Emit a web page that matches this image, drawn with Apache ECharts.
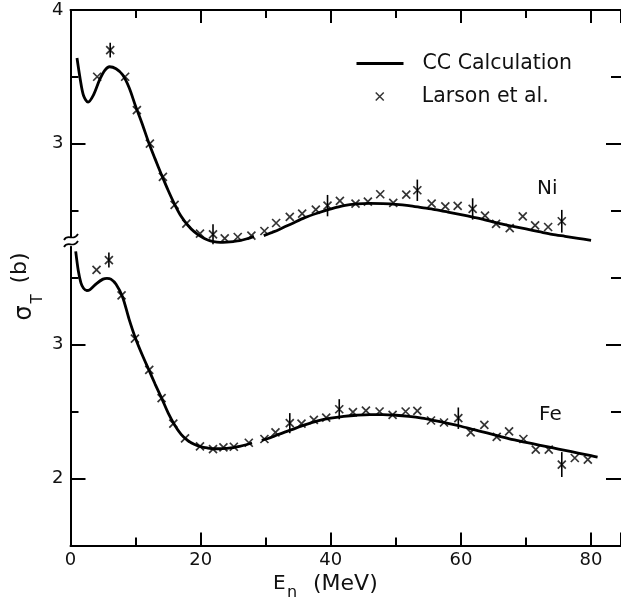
<!DOCTYPE html>
<html>
<head>
<meta charset="utf-8">
<script src="https://cdn.jsdelivr.net/npm/echarts@6/dist/echarts.min.js"></script>
<style>
  html, body { margin: 0; padding: 0; background: #fff; }
  #chart { width: 621px; height: 598px; }
</style>
</head>
<body>
<div id="chart"></div>
<script>
const FONT = '"DejaVu Sans", sans-serif';
const INK = '#111';

// Coupled-channel calculation for Ni: neutron energy (MeV) and total cross section (b).
// A null cross section splits the curve into its two computed segments.
const niCalcE = [1.0, 1.5, 2.0, 2.7, 3.5, 4.5, 5.3, 6.0, 7.0, 8.0, 9.0, 10.0, 11.0, 12.0, 13.0, 14.0,
  15.0, 16.0, 17.0, 18.0, 19.0, 20.0, 21.0, 22.0, 23.0, 24.0, 25.0, 26.0, 27.0, 28.2, 28.9,
  29.7, 31, 32, 34, 36, 38, 40, 42, 44, 46, 48, 50, 52, 54, 56, 58, 60, 62, 64, 66, 68, 70,
  72, 74, 76, 78, 80];
const niCalcS = [3.64, 3.48, 3.36, 3.31, 3.36, 3.48, 3.55, 3.575, 3.56, 3.515, 3.42, 3.28, 3.15, 3.01, 2.885, 2.765,
  2.65, 2.545, 2.455, 2.39, 2.34, 2.305, 2.28, 2.265, 2.26, 2.262, 2.266, 2.272, 2.285, 2.305, null,
  2.31, 2.335, 2.355, 2.40, 2.445, 2.48, 2.51, 2.535, 2.548, 2.552, 2.55, 2.545, 2.535, 2.52, 2.505, 2.487, 2.468, 2.447, 2.425, 2.40, 2.38, 2.36,
  2.34, 2.32, 2.305, 2.29, 2.275];

// Larson et al. measurements for Ni
const niExpE = [4.1, 6.1, 8.4, 10.2, 12.2, 14.2, 16.0, 17.8, 19.9, 21.9, 23.7, 25.7, 27.8, 29.8, 31.6,
  33.7, 35.6, 37.7, 39.5, 41.4, 43.8, 45.7, 47.6, 49.6, 51.6, 53.3, 55.5, 57.6, 59.5, 61.8, 63.7,
  65.4, 67.5, 69.5, 71.4, 73.4, 75.5];
const niExpS = [3.50, 3.70, 3.50, 3.25, 3.00, 2.75, 2.54, 2.40, 2.325, 2.32, 2.29, 2.30, 2.31, 2.345, 2.405,
  2.45, 2.475, 2.505, 2.535, 2.57, 2.55, 2.565, 2.62, 2.555, 2.617, 2.65, 2.55, 2.53, 2.533, 2.51, 2.46,
  2.398, 2.366, 2.455, 2.387, 2.375, 2.418];
// Ni points carrying error bars: energy, cross section, half-width (b)
const niBarE = [6.1, 21.9, 39.5, 53.3, 61.8, 75.5];
const niBarS = [3.70, 2.32, 2.535, 2.65, 2.51, 2.418];
const niBarErr = [0.055, 0.075, 0.08, 0.08, 0.08, 0.085];

// Coupled-channel calculation for Fe
const feCalcE = [0.8, 1.2, 1.6, 2.0, 2.5, 3.0, 4.0, 5.0, 5.6, 6.2, 7.0, 8.0, 9.0, 10.0, 11.0, 12.0, 13.0,
  14.0, 15.0, 16.0, 17.0, 18.0, 19.0, 20.0, 21.0, 22.0, 23.0, 24.0, 25.0, 26.0, 27.0, 27.9, 28.7,
  29.4, 31, 32, 34, 36, 38, 40, 42, 44, 46, 48, 50, 52, 54, 56, 58, 60, 62, 64, 66, 68, 70,
  72, 74, 76, 78, 80, 81];
const feCalcS = [3.695, 3.55, 3.46, 3.42, 3.403, 3.41, 3.455, 3.488, 3.494, 3.488, 3.45, 3.355, 3.19, 3.045, 2.925, 2.815, 2.705,
  2.60, 2.49, 2.40, 2.33, 2.285, 2.255, 2.238, 2.228, 2.222, 2.222, 2.225, 2.23, 2.24, 2.252, 2.265, null,
  2.285, 2.31, 2.33, 2.365, 2.40, 2.43, 2.45, 2.463, 2.472, 2.477, 2.477, 2.472, 2.463, 2.45, 2.432, 2.412, 2.39, 2.365, 2.34, 2.315, 2.29, 2.27,
  2.25, 2.23, 2.21, 2.19, 2.17, 2.16];

// Larson et al. measurements for Fe
const feExpE = [4.0, 5.9, 7.85, 9.9, 12.1, 14.0, 15.8, 17.6, 19.9, 21.9, 23.5, 25.1, 27.4, 29.8, 31.5,
  33.7, 35.5, 37.4, 39.3, 41.3, 43.4, 45.4, 47.5, 49.5, 51.5, 53.3, 55.4, 57.4, 59.6, 61.5, 63.6,
  65.5, 67.4, 69.6, 71.5, 73.5, 75.5, 77.5, 79.5];
const feExpS = [3.557, 3.63, 3.366, 3.044, 2.81, 2.60, 2.41, 2.30, 2.24, 2.22, 2.233, 2.237, 2.267, 2.295, 2.345,
  2.413, 2.41, 2.438, 2.455, 2.517, 2.495, 2.507, 2.50, 2.475, 2.50, 2.505, 2.433, 2.418, 2.45, 2.344, 2.40,
  2.31, 2.351, 2.295, 2.215, 2.215, 2.104, 2.153, 2.141];
const feBarE = [5.9, 33.7, 41.3, 59.6, 75.5];
const feBarS = [3.63, 2.413, 2.517, 2.45, 2.104];
const feBarErr = [0.056, 0.075, 0.075, 0.08, 0.093];

// Axis ranges and tick values
const energyMax = 84.6;
const energyStep = 20;
const niRange = [2.3, 4];
const feRange = [1.5, 3.73];
const niLabelTicks = [3, 4];
const niMajorTicks = [3];
const niMinorTicks = [2.5, 3.5];
const feLabelTicks = [2, 3];
const feMajorTicks = [2, 3];
const feMinorTicks = [2.5, 3.5];

const pairs = (xs, ys) => xs.map((x, i) => [x, ys[i]]);
const bars = (xs, ys, es) => xs.map((x, i) => [x, ys[i] - es[i], ys[i] + es[i]]);

const CROSS = 'path://M0,0L10,10M10,0L0,10';
const axisLineStyle = { color: '#000', width: 2 };

function energyAxis(gridIndex, position, showLabels) {
  return {
    type: 'value', gridIndex, position,
    min: 0, max: energyMax, interval: energyStep,
    axisLine: { show: true, lineStyle: axisLineStyle },
    axisTick: { show: true, inside: true, length: 13, lineStyle: axisLineStyle },
    minorTick: { show: true, splitNumber: 2, length: 8, lineStyle: axisLineStyle },
    axisLabel: { show: showLabels, color: INK, fontFamily: FONT, fontSize: 18, margin: 6,
      showMaxLabel: false },
    splitLine: { show: false },
    minorSplitLine: { show: false }
  };
}

function sigmaAxis(gridIndex, position, range, opts) {
  return {
    type: 'value', gridIndex, position,
    min: range[0], max: range[1],
    axisLine: { show: !!opts.line, lineStyle: axisLineStyle },
    axisTick: { show: true, inside: true, length: opts.len, customValues: opts.ticks,
      lineStyle: axisLineStyle },
    axisLabel: opts.labels
      ? { show: true, customValues: opts.labels, color: INK, fontFamily: FONT, fontSize: 18, margin: 7 }
      : { show: false },
    splitLine: { show: false }
  };
}

function errRender(params, api) {
  const x = api.value(0);
  const lo = api.coord([x, api.value(1)]);
  const hi = api.coord([x, api.value(2)]);
  return {
    type: 'line',
    shape: { x1: lo[0], y1: lo[1], x2: hi[0], y2: hi[1] },
    style: { stroke: '#000', lineWidth: 1.6 }
  };
}

function label(text, x, y, size, extra) {
  return Object.assign({
    type: 'text', x, y, silent: true,
    style: { text, fill: INK, fontFamily: FONT, fontSize: size, align: 'left', verticalAlign: 'middle' }
  }, extra || {});
}

function upright(text, x, y, size) {
  return {
    type: 'text', x, y, silent: true, rotation: Math.PI / 2,
    style: { text, fill: INK, fontFamily: FONT, fontSize: size, align: 'center', verticalAlign: 'middle' }
  };
}

const calcStyle = { color: '#000', width: 2.8 };
const crossStyle = { color: 'rgba(0,0,0,0)', borderColor: '#000', borderWidth: 1.7 };

const option = {
  backgroundColor: '#fff',
  animation: false,
  grid: [
    { left: 70.5, top: 10, width: 551.5, height: 227 },
    { left: 70.5, top: 246.7, width: 551.5, height: 298.8 }
  ],
  xAxis: [
    energyAxis(0, 'top', false),
    energyAxis(1, 'bottom', true)
  ],
  yAxis: [
    sigmaAxis(0, 'left', niRange, { line: true, len: 15, ticks: niMajorTicks, labels: niLabelTicks }),
    sigmaAxis(0, 'left', niRange, { len: 8, ticks: niMinorTicks }),
    sigmaAxis(0, 'right', niRange, { len: 15, ticks: niMajorTicks }),
    sigmaAxis(0, 'right', niRange, { len: 10, ticks: niMinorTicks }),
    sigmaAxis(1, 'left', feRange, { line: true, len: 15, ticks: feMajorTicks, labels: feLabelTicks }),
    sigmaAxis(1, 'left', feRange, { len: 8, ticks: feMinorTicks }),
    sigmaAxis(1, 'right', feRange, { len: 15, ticks: feMajorTicks }),
    sigmaAxis(1, 'right', feRange, { len: 10, ticks: feMinorTicks })
  ],
  legend: [
    {
      data: ['CC Calculation'],
      left: 350, top: 48,
      itemWidth: 47, itemHeight: 14,
      lineStyle: { width: 3, color: '#000' },
      itemStyle: { color: 'rgba(0,0,0,0)', borderWidth: 0, opacity: 0 },
      textStyle: { color: INK, fontFamily: FONT, fontSize: 20.5, padding: [0, 0, 0, 14] }
    },
    {
      data: ['Larson et al.'],
      left: 370, top: 81,
      itemWidth: 8, itemHeight: 8,
      itemStyle: { color: 'rgba(0,0,0,0)', borderColor: '#000', borderWidth: 1.5 },
      textStyle: { color: INK, fontFamily: FONT, fontSize: 20.5, padding: [0, 0, 0, 33] }
    }
  ],
  series: [
    {
      name: 'CC Calculation', type: 'line', xAxisIndex: 0, yAxisIndex: 0,
      data: pairs(niCalcE, niCalcS), symbol: 'none', smooth: 0.3, clip: false,
      connectNulls: false, lineStyle: calcStyle, itemStyle: { color: '#000' }
    },
    {
      name: 'CC Calculation', type: 'line', xAxisIndex: 1, yAxisIndex: 4,
      data: pairs(feCalcE, feCalcS), symbol: 'none', smooth: 0.3, clip: false,
      connectNulls: false, lineStyle: calcStyle, itemStyle: { color: '#000' }
    },
    {
      name: 'Larson et al.', type: 'scatter', xAxisIndex: 0, yAxisIndex: 0,
      data: pairs(niExpE, niExpS), symbol: CROSS, symbolSize: 8, clip: false,
      itemStyle: crossStyle
    },
    {
      name: 'Larson et al.', type: 'scatter', xAxisIndex: 1, yAxisIndex: 4,
      data: pairs(feExpE, feExpS), symbol: CROSS, symbolSize: 8, clip: false,
      itemStyle: crossStyle
    },
    {
      name: 'Ni uncertainty', type: 'custom', xAxisIndex: 0, yAxisIndex: 0,
      data: bars(niBarE, niBarS, niBarErr), renderItem: errRender, clip: false,
      encode: { x: 0, y: [1, 2] }
    },
    {
      name: 'Fe uncertainty', type: 'custom', xAxisIndex: 1, yAxisIndex: 4,
      data: bars(feBarE, feBarS, feBarErr), renderItem: errRender, clip: false,
      encode: { x: 0, y: [1, 2] }
    }
  ],
  graphic: [
    // axis break on the left edge
    { type: 'bezierCurve', silent: true,
      shape: { x1: 64, y1: 240, cpx1: 68, cpy1: 233, cpx2: 73, cpy2: 242, x2: 78, y2: 234 },
      style: { stroke: '#000', lineWidth: 1.8, fill: null } },
    { type: 'bezierCurve', silent: true,
      shape: { x1: 64, y1: 247, cpx1: 68, cpy1: 240, cpx2: 73, cpy2: 249, x2: 78, y2: 241 },
      style: { stroke: '#000', lineWidth: 1.8, fill: null } },
    // element labels
    label('Ni', 537, 189, 20),
    label('Fe', 539, 415, 20),
    // energy axis title
    label('E', 273, 584, 20),
    label('n', 287, 593, 16),
    label('(MeV)', 313, 584, 22),
    // cross-section axis title
    upright('σ', 25, 313, 24),
    upright('T', 38, 299, 15),
    upright('(b)', 20, 268, 22)
  ]
};

const chart = echarts.init(document.getElementById('chart'), null, { renderer: 'canvas' });
chart.setOption(option);
</script>
</body>
</html>
